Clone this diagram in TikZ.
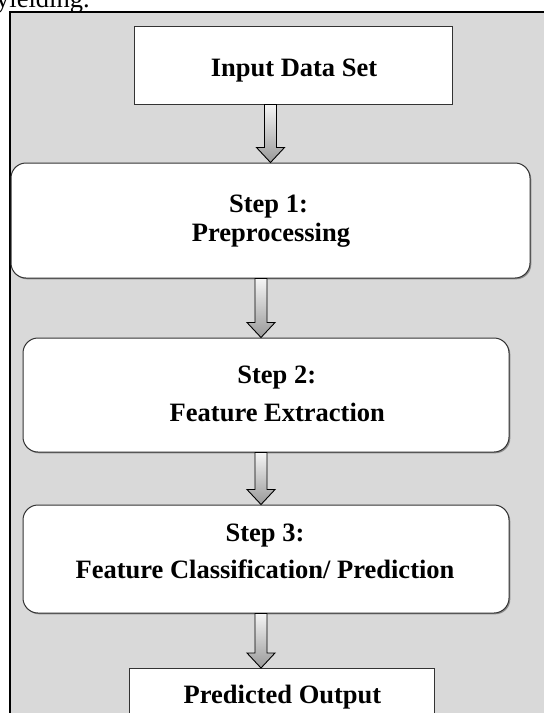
\documentclass[tikz,border=0pt]{standalone}
\usepackage{fontspec}
\setmainfont{Liberation Serif}
\usetikzlibrary{calc,shadows}
\tikzset{
  boxbase/.style={draw=black!80, line width=1pt, fill=white, inner sep=0pt,
    general shadow={fill=black!45, shadow xshift=1.3pt, shadow yshift=-1.3pt}},
  sqbox/.style={boxbase},
  rndbox/.style={boxbase, rounded corners=15pt},
  lbl/.style={anchor=base, inner sep=0pt, font=\fontsize{26.5}{30}\selectfont\bfseries},
  blockarr/.style={draw=black, line width=0.9pt, top color=black!4, bottom color=black!40, line join=miter},
}
\newcommand\flowarrow[3]{%
  \draw[blockarr] let \p1=(#2.south), \p2=(#3.north) in
    (#1pt-6pt,\y1) -- (#1pt+6pt,\y1) -- (#1pt+6pt,\y2+15pt) -- (#1pt+14pt,\y2+15pt)
    -- (#1pt,\y2) -- (#1pt-14pt,\y2+15pt) -- (#1pt-6pt,\y2+15pt) -- cycle;}
\begin{document}
\begin{tikzpicture}[x=1pt,y=-1pt]
\useasboundingbox (0,0) rectangle (544,713);
\clip (0,0) rectangle (544,713);
% cut-off text above the frame
\node[anchor=base west, inner sep=0pt, font=\fontsize{26.5}{30}\selectfont] (prev) at (-4,7) {yielding.};
% gray frame
\draw[fill=black!15, line width=2pt] (10,12) rectangle (560,740);
% boxes
\node[sqbox, minimum width=318pt, minimum height=78pt] (inp) at (293,65) {};
\node[rndbox, minimum width=519pt, minimum height=115pt] (s1) at (270.5,220.5) {};
\node[rndbox, minimum width=486pt, minimum height=114pt] (s2) at (266,395) {};
\node[rndbox, minimum width=486pt, minimum height=108pt] (s3) at (266,559) {};
\node[sqbox, minimum width=305pt, minimum height=72pt, anchor=north] (out) at (281.5,668) {};
% labels
\node[lbl] (tinp) at (294,76.7) {Input Data Set};
\node[lbl] (t1a) at (268.5,212.7) {Step 1:};
\node[lbl] (t1b) at (271,241.7) {Preprocessing};
\node[lbl] (t2a) at (276.7,383.3) {Step 2:};
\node[lbl] (t2b) at (277.3,421.7) {Feature Extraction};
\node[lbl] (t3a) at (265,541.7) {Step 3:};
\node[lbl] (t3b) at (265,578.3) {Feature Classification/ Prediction};
\node[lbl] (tout) at (282.5,703.3) {Predicted Output};
% arrows
\flowarrow{270.5}{inp}{s1}
\flowarrow{261}{s1}{s2}
\flowarrow{261}{s2}{s3}
\flowarrow{261}{s3}{out}
\end{tikzpicture}
\end{document}
